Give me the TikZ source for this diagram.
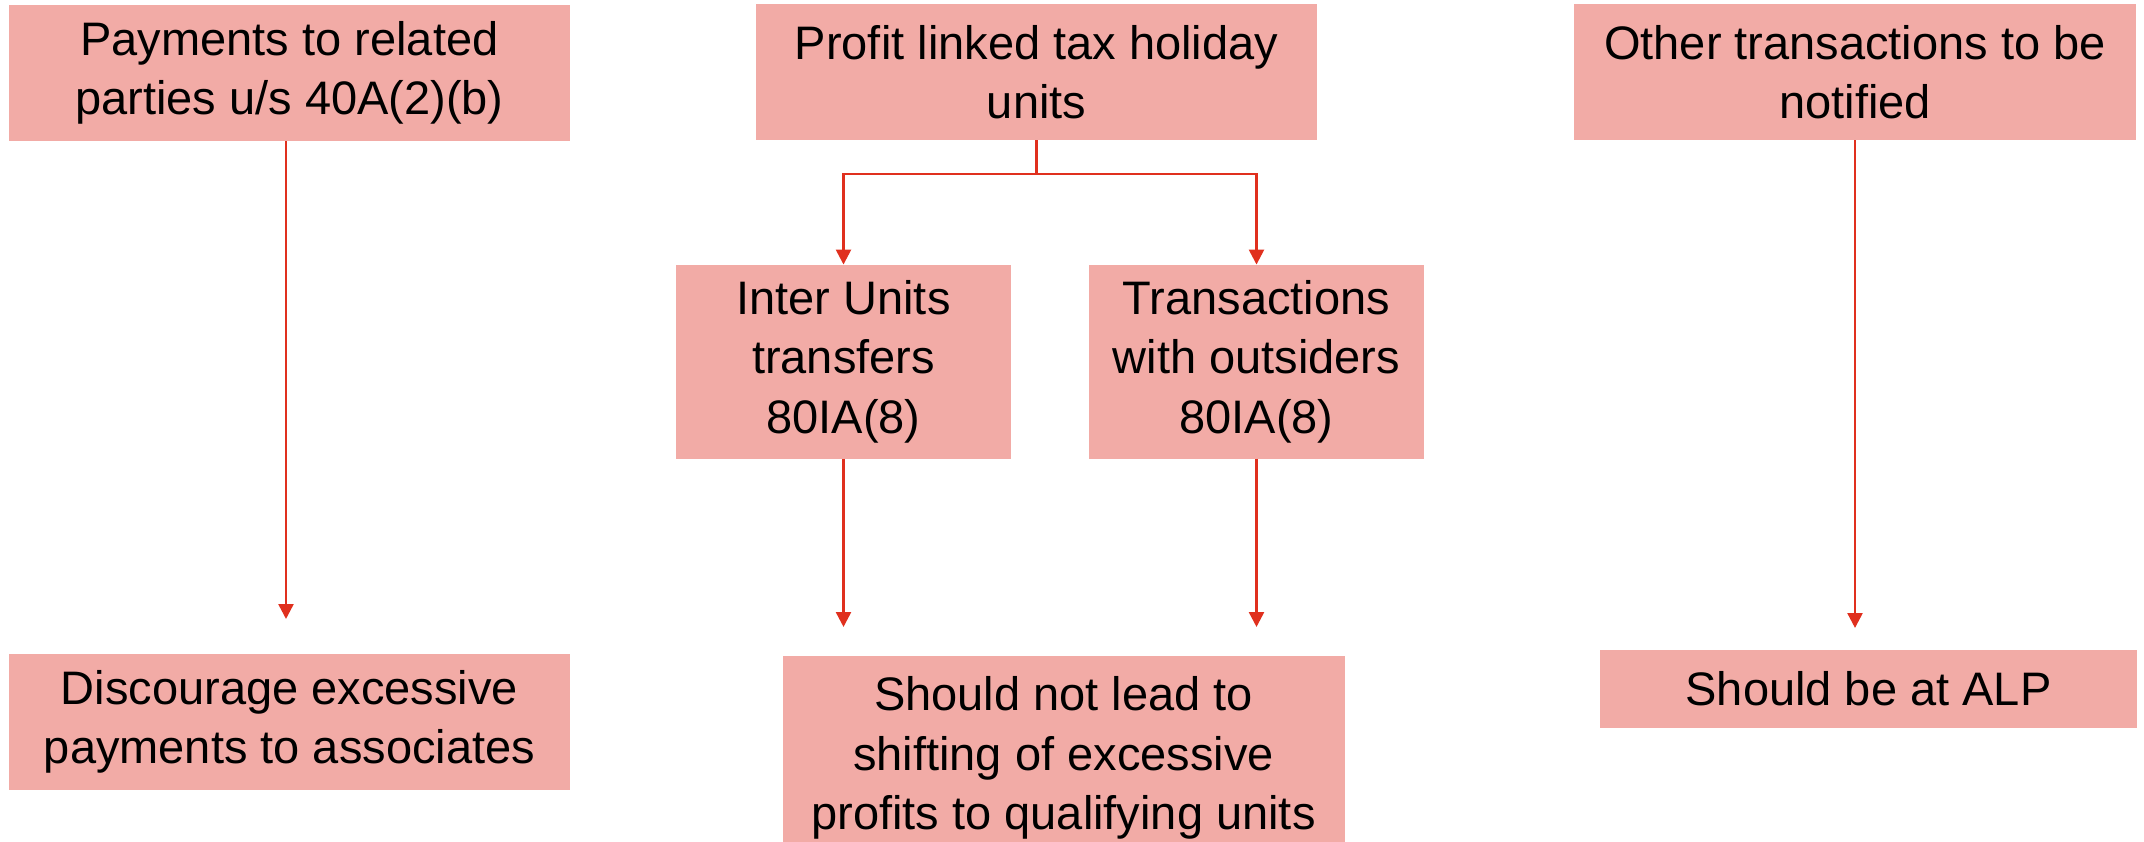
\documentclass[tikz,border=0pt]{standalone}
\usepackage{fontspec}
\setmainfont{Liberation Sans}
\usetikzlibrary{arrows.meta}
\definecolor{boxfill}{HTML}{F2ABA6}
\definecolor{linered}{HTML}{E0301E}
\begin{document}
\begin{tikzpicture}[x=1pt,y=-1pt,
  box/.style={fill=boxfill, draw=none, inner sep=0pt, align=center,
              font=\fontsize{47}{59.5}\selectfont},
  conn/.style={draw=linered, line width=2.5pt},
  arr/.style={conn, -{Triangle[width=15pt,length=15pt]}}]
\useasboundingbox (0,0) rectangle (2144,842);
% top row
\node[box, minimum width=561pt, minimum height=136pt] (b1) at (289.5,73) {Payments to related\\parties u/s 40A(2)(b)};
\node[box, minimum width=561pt, minimum height=136pt] (b2) at (1036.5,72) {Profit linked tax holiday\\units};
\node[box, minimum width=562pt, minimum height=136pt] (b3) at (1855,72) {Other transactions to be\\notified};
% middle row
\node[box, minimum width=335pt, minimum height=194pt] (inter) at (843.5,361.75) {Inter Units\\transfers\\80IA(8)};
\node[box, minimum width=335pt, minimum height=194pt] (trans) at (1256.5,361.75) {Transactions\\with outsiders\\80IA(8)};
% bottom row
\node[box, minimum width=561pt, minimum height=136pt] (disc) at (289.5,722) {Discourage excessive\\payments to associates};
\node[box, minimum width=562pt, minimum height=204pt] (should) at (1063.5,758) {Should not lead to\\shifting of excessive\\profits to qualifying units};
\node[box, minimum width=537pt, minimum height=77.5pt] (alp) at (1868.5,688.75) {Should be at ALP};
% connector ends
\coordinate (fork) at (1036.5,174);
\coordinate (t0) at (286,619);
\coordinate (t1) at (843.5,627);
\coordinate (t2) at (1256.5,627);
\coordinate (t3) at (1855,628);
% connectors
\draw[arr] (b1.south -| t0) -- (t0);
\draw[conn] (b2.south) -- (fork);
\draw[arr] (fork) -| (inter.north);
\draw[arr] (fork) -| (trans.north);
\draw[arr] (inter.south) -- (t1);
\draw[arr] (trans.south) -- (t2);
\draw[arr] (b3.south) -- (t3);
\end{tikzpicture}
\end{document}
